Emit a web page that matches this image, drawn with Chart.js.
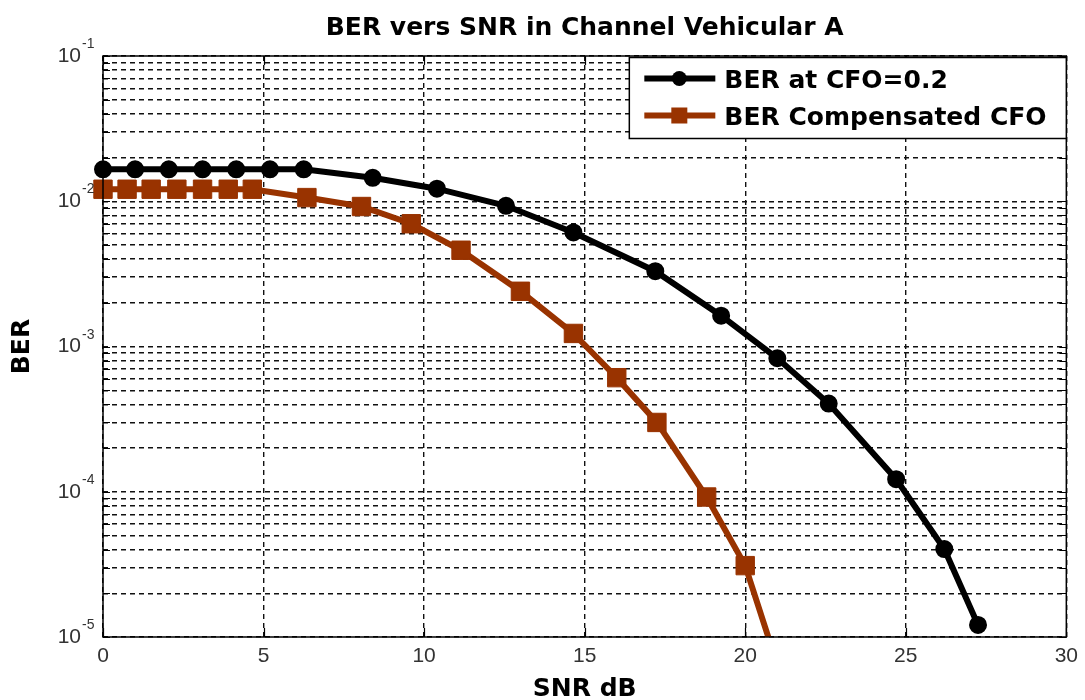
<!DOCTYPE html>
<html>
<head>
<meta charset="utf-8">
<script src="https://cdn.jsdelivr.net/npm/chart.js@4.4.1/dist/chart.umd.min.js"></script>
<style>
  html, body { margin: 0; padding: 0; background: #fff; }
</style>
</head>
<body>
<canvas id="chart" width="1085" height="700"></canvas>
<script>
// values
const snrCfo = [0, 1.0, 2.05, 3.1, 4.15, 5.2, 6.25, 8.4, 10.4, 12.55, 14.65, 17.2, 19.25, 21.0, 22.6, 24.7, 26.2, 27.25];
const berCfo = [0.0166, 0.0166, 0.0166, 0.0166, 0.0166, 0.0166, 0.0166, 0.0145, 0.0122, 0.0093, 0.0061, 0.0033, 0.00163, 0.00083, 0.000405, 0.000122, 0.0000403, 0.0000121];

const snrComp = [0, 0.75, 1.5, 2.3, 3.1, 3.9, 4.65, 6.35, 8.05, 9.6, 11.15, 13.0, 14.65, 16.0, 17.25, 18.8, 20.0, 21.3];
const berComp = [0.0121, 0.0121, 0.0121, 0.0121, 0.0121, 0.0121, 0.0121, 0.0106, 0.0092, 0.0070, 0.0046, 0.0024, 0.00123, 0.00061, 0.0003, 0.000092, 0.000031, 0.000004];

const seriesLabels = ["BER at CFO=0.2", "BER Compensated CFO"];
const xTicks = [0, 5, 10, 15, 20, 25, 30];
const yDecades = [1e-5, 1e-4, 1e-3, 1e-2, 1e-1];
const yMantissas = [1, 2, 3, 4, 5, 6, 7, 8, 9];

// log grid: 1..9 x each decade
const yGrid = [];
yDecades.forEach((d, i) => {
	if (i === yDecades.length - 1) {
		yGrid.push(d);
		return;
	}
	yMantissas.forEach((m) => yGrid.push(m * d));
});

const isDecade = (v) => Math.abs(Math.log10(v) - Math.round(Math.log10(v))) < 1e-9;

const BROWN = "#993300";
const gridDash = [5, 4];

const matlabAxes = {
	id: "matlabAxes",
	afterDraw(chart) {
		const { ctx, chartArea: a, scales } = chart;
		const x = scales.x;
		const y = scales.y;
		ctx.save();

		// box + inner ticks
		ctx.strokeStyle = "#000";
		ctx.lineWidth = 1.5;
		ctx.strokeRect(a.left, a.top, a.right - a.left, a.bottom - a.top);
		ctx.lineWidth = 1.2;
		ctx.beginPath();
		xTicks.forEach((v) => {
			const px = Math.round(x.getPixelForValue(v)) + 0.5;
			ctx.moveTo(px, a.bottom);
			ctx.lineTo(px, a.bottom - 9);
			ctx.moveTo(px, a.top);
			ctx.lineTo(px, a.top + 9);
		});
		yGrid.forEach((v) => {
			const py = Math.round(y.getPixelForValue(v)) + 0.5;
			ctx.moveTo(a.left, py);
			ctx.lineTo(a.left + 7, py);
			ctx.moveTo(a.right, py);
			ctx.lineTo(a.right - 7, py);
		});
		ctx.stroke();

		// exponents of the 10^k labels
		ctx.fillStyle = "#333";
		ctx.font = '14px "Liberation Sans"';
		ctx.textAlign = "left";
		ctx.textBaseline = "alphabetic";
		yDecades.forEach((v) => {
			const py = y.getPixelForValue(v);
			ctx.fillText(String(Math.round(Math.log10(v))), a.left - 21, py - 8);
		});

		// legend box
		const w = 437, h = 81;
		const lx = a.right - w;
		const ly = a.top + 1.5;
		ctx.fillStyle = "#fff";
		ctx.fillRect(lx, ly, w, h);
		ctx.strokeStyle = "#000";
		ctx.lineWidth = 1.5;
		ctx.strokeRect(lx, ly, w, h);

		chart.data.datasets.forEach((ds, i) => {
			const ry = ly + 21 + i * 37;
			ctx.strokeStyle = ds.borderColor;
			ctx.lineWidth = 6;
			ctx.beginPath();
			ctx.moveTo(lx + 15, ry);
			ctx.lineTo(lx + 86, ry);
			ctx.stroke();
			ctx.fillStyle = ds.borderColor;
			if (ds.pointStyle === "rect") {
				ctx.fillRect(lx + 50 - 8, ry - 8, 16, 16);
			} else {
				ctx.beginPath();
				ctx.arc(lx + 50, ry, 7.5, 0, Math.PI * 2);
				ctx.fill();
			}
			ctx.fillStyle = "#000";
			ctx.font = 'bold 25px "DejaVu Sans"';
			ctx.fillText(ds.label, lx + 95, ry + 9);
		});

		ctx.restore();
	},
};

const data = {
	datasets: [
		{
			label: seriesLabels[0],
			data: snrCfo.map((s, i) => ({ x: s, y: berCfo[i] })),
			borderColor: "#000",
			backgroundColor: "#000",
			borderWidth: 6,
			pointStyle: "circle",
			pointRadius: 7,
			pointBorderWidth: 4,
			pointBackgroundColor: "#000",
			pointBorderColor: "#000",
			order: 1,
			clip: { left: 14, right: 14, top: 14, bottom: 0 },
		},
		{
			label: seriesLabels[1],
			data: snrComp.map((s, i) => ({ x: s, y: berComp[i] })),
			borderColor: BROWN,
			backgroundColor: BROWN,
			borderWidth: 6,
			pointStyle: "rect",
			pointRadius: 13,
			pointBorderWidth: 1,
			pointBackgroundColor: BROWN,
			pointBorderColor: BROWN,
			order: 0,
			clip: { left: 14, right: 14, top: 14, bottom: 0 },
		},
	],
};

const options = {
	responsive: false,
	animation: false,
	devicePixelRatio: 1,
	events: [],
	layout: {
		padding: { left: 0, right: 15, top: 0, bottom: 0 },
	},
	plugins: {
		legend: { display: false },
		tooltip: { enabled: false },
		title: {
			display: true,
			text: "BER vers SNR in Channel Vehicular A",
			fullSize: false,
			color: "#000",
			font: { family: "DejaVu Sans", size: 25, weight: "bold", lineHeight: 1.2 },
			padding: { top: 13, bottom: 13 },
		},
	},
	scales: {
		x: {
			type: "linear",
			min: 0,
			max: 30,
			afterBuildTicks: (scale) => {
				scale.ticks = xTicks.map((v) => ({ value: v }));
			},
			afterFit: (scale) => {
				scale.height = 63;
			},
			ticks: {
				autoSkip: false,
				maxRotation: 0,
				padding: 7,
				color: "#333",
				font: { family: "Liberation Sans", size: 21 },
			},
			grid: { color: "#111", lineWidth: 1.4, drawTicks: false },
			border: { display: false, dash: gridDash },
			title: {
				display: true,
				text: "SNR dB",
				color: "#000",
				font: { family: "DejaVu Sans", size: 25, weight: "bold", lineHeight: 1 },
				padding: { top: 0, bottom: -2 },
			},
		},
		y: {
			type: "logarithmic",
			min: 1e-5,
			max: 1e-1,
			afterBuildTicks: (scale) => {
				scale.ticks = yGrid.map((v) => ({ value: v, major: isDecade(v) }));
			},
			afterFit: (scale) => {
				scale.width = 103;
			},
			ticks: {
				autoSkip: false,
				padding: 22,
				color: "#333",
				font: { family: "Liberation Sans", size: 21 },
				callback: (v) => (isDecade(v) ? "10" : ""),
			},
			grid: { color: "#111", lineWidth: 1.4, drawTicks: false },
			border: { display: false, dash: gridDash },
			title: {
				display: true,
				text: "BER",
				color: "#000",
				font: { family: "DejaVu Sans", size: 25, weight: "bold", lineHeight: 1 },
				padding: { top: 10, bottom: 0 },
			},
		},
	},
};

new Chart(document.getElementById("chart").getContext("2d"), {
	type: "line",
	data,
	options,
	plugins: [matlabAxes],
});
</script>
</body>
</html>
